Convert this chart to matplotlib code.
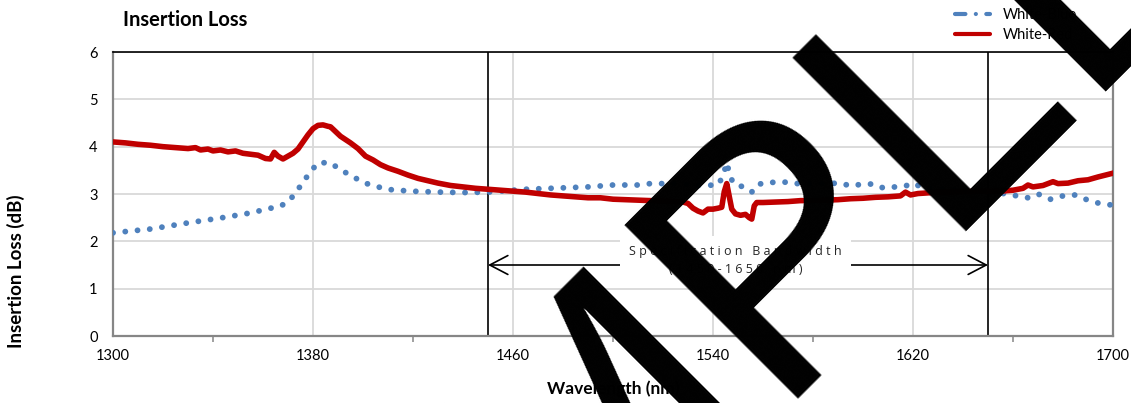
import matplotlib
matplotlib.use("Agg")
import matplotlib.pyplot as plt
from matplotlib.ticker import FixedLocator, NullFormatter
from matplotlib.lines import Line2D

# ---------------- data ----------------
red_wl = [1300, 1305, 1310, 1315, 1320, 1325, 1330, 1333, 1335, 1338, 1340, 1343, 1346, 1349,
          1352, 1355, 1358, 1361, 1363, 1364.5, 1366, 1368, 1370, 1372, 1374, 1376, 1378, 1380,
          1382, 1384, 1386, 1387, 1388, 1391, 1395, 1398, 1401, 1404, 1407, 1410, 1414, 1418,
          1422, 1426, 1430, 1435, 1440, 1445, 1450, 1455, 1460, 1465, 1470, 1475, 1480, 1485,
          1490, 1495, 1500, 1505, 1510, 1515, 1520, 1525, 1528, 1530, 1532, 1534, 1536, 1538,
          1540, 1542, 1543.5, 1544.5, 1545.5, 1546.5, 1547.5, 1549, 1551, 1553, 1554.5, 1555.5,
          1556.5, 1557.5, 1560, 1565, 1570, 1575, 1580, 1585, 1590, 1595, 1600, 1605, 1610,
          1615, 1617, 1619, 1622, 1625, 1630, 1640, 1650, 1655, 1660, 1664, 1666, 1668, 1672,
          1676, 1678, 1682, 1686, 1690, 1694, 1697, 1700]
red_il = [4.10, 4.08, 4.05, 4.03, 4.00, 3.98, 3.96, 3.98, 3.93, 3.95, 3.91, 3.93, 3.89, 3.91,
          3.86, 3.84, 3.82, 3.75, 3.74, 3.88, 3.80, 3.74, 3.80, 3.86, 3.95, 4.10, 4.25, 4.38,
          4.45, 4.46, 4.43, 4.42, 4.37, 4.22, 4.08, 3.96, 3.80, 3.72, 3.62, 3.55, 3.48, 3.40,
          3.33, 3.28, 3.23, 3.18, 3.15, 3.12, 3.10, 3.08, 3.06, 3.04, 3.01, 2.98, 2.96, 2.94,
          2.92, 2.92, 2.89, 2.88, 2.87, 2.86, 2.85, 2.84, 2.83, 2.80, 2.70, 2.64, 2.60, 2.68,
          2.68, 2.70, 2.72, 3.05, 3.22, 2.95, 2.68, 2.58, 2.55, 2.57, 2.50, 2.47,
          2.75, 2.82, 2.82, 2.83, 2.84, 2.86, 2.86, 2.87, 2.88, 2.90, 2.91, 2.93, 2.94,
          2.96, 3.04, 2.98, 3.01, 3.02, 3.04, 3.05, 3.06, 3.06, 3.08, 3.12, 3.19, 3.15, 3.18,
          3.26, 3.22, 3.23, 3.28, 3.30, 3.36, 3.40, 3.44]

blue_wl = [1300, 1315, 1330, 1345, 1355, 1363, 1366, 1370, 1373, 1376, 1379, 1382, 1387, 1391,
           1396, 1400, 1405, 1409, 1419, 1430, 1440, 1450, 1465, 1480, 1490, 1500, 1510, 1515,
           1525, 1535, 1542, 1544, 1545.5, 1546.5, 1548, 1552, 1555.5, 1557.5, 1560, 1565, 1570,
           1575, 1585, 1591, 1595, 1600, 1604, 1608, 1613, 1617, 1620, 1624, 1640, 1655, 1666,
           1670, 1675, 1680, 1685, 1689, 1694, 1699, 1700]
blue_il = [2.18, 2.26, 2.39, 2.51, 2.60, 2.70, 2.72, 2.83, 3.02, 3.25, 3.47, 3.66, 3.66, 3.51,
           3.37, 3.24, 3.17, 3.10, 3.06, 3.04, 3.03, 3.04, 3.10, 3.13, 3.15, 3.19, 3.19, 3.22,
           3.22, 3.18, 3.19, 3.38, 3.66, 3.45, 3.23, 3.15, 3.04, 3.19, 3.23, 3.25, 3.25,
           3.21, 3.22, 3.23, 3.17, 3.21, 3.21, 3.13, 3.15, 3.17, 3.23, 3.13, 3.08, 3.02, 2.92,
           3.00, 2.89, 2.96, 2.98, 2.89, 2.81, 2.77, 2.76]

x_major_ticks = [1300, 1380, 1460, 1540, 1620, 1700]
x_minor_ticks = [1340, 1420, 1500, 1580, 1660]
y_ticks = [0, 1, 2, 3, 4, 5, 6]
series_labels = ["White-Blue", "White-Red"]
spec_band = [1450, 1650]
spec_text = "Specification Bandwidth"
spec_range = "(1450-1650 nm)"
title_text = "Insertion Loss"
xlabel_text = "Wavelength (nm)"
ylabel_text = "Insertion Loss (dB)"
watermark = "SAMPLE"

# ---------------- figure ----------------
W, H = 1131, 403
fig = plt.figure(figsize=(W / 100, H / 100), dpi=100)
ax = fig.add_axes([113 / W, 67 / H, 1000 / W, 284 / H])

FONT = "Lato"
BLUE = "#4f81bd"
RED = "#c00000"

ax.set_xlim(1300, 1700)
ax.set_ylim(0, 6)
ax.xaxis.set_major_locator(FixedLocator(x_major_ticks))
ax.xaxis.set_minor_locator(FixedLocator(x_minor_ticks))
ax.xaxis.set_minor_formatter(NullFormatter())
ax.yaxis.set_major_locator(FixedLocator(y_ticks))
ax.grid(True, which="major", color="#d9d9d9", lw=1.3)
ax.set_axisbelow(True)

ax.tick_params(axis="y", length=0, pad=11, labelsize=10.5)
ax.tick_params(axis="x", which="major", length=0, pad=9, labelsize=10.5)
ax.tick_params(axis="x", which="minor", length=4, width=1.1, color="#868686", direction="out")
for lab in ax.get_xticklabels() + ax.get_yticklabels():
    lab.set_fontfamily(FONT)

for side in ["left", "bottom", "right"]:
    ax.spines[side].set_color("#868686")
    ax.spines[side].set_linewidth(1.6)
ax.spines["top"].set_color("black")
ax.spines["top"].set_linewidth(1.2)

# spec band lines
for b in spec_band:
    ax.axvline(b, color="black", lw=1.2, zorder=2)

# series
ax.plot(blue_wl, blue_il, color=BLUE, lw=4.2, linestyle=(0, (0.01, 2.1)),
        dash_capstyle="round", solid_capstyle="round", zorder=3, label=series_labels[0])
ax.plot(red_wl, red_il, color=RED, lw=4.0, solid_joinstyle="round", zorder=4,
        label=series_labels[1])

# arrow + spec text
ax.annotate("", xy=(spec_band[0], 1.5), xytext=(spec_band[1], 1.5),
            arrowprops=dict(arrowstyle="<->,head_length=1.3,head_width=0.68",
                            color="black", lw=1.2, shrinkA=0, shrinkB=0), zorder=5)


def spaced(s):
    return " ".join(list(s))


ax.text(1549, 1.6, spaced(spec_text) + "\n" + spaced(spec_range), ha="center", va="center",
        fontsize=9, family="Open Sans", color="#262626", linespacing=1.45, zorder=6,
        bbox=dict(facecolor="white", edgecolor="none", boxstyle="square,pad=0.75"))

# texts
fig.text(123 / W, 1 - 20 / H, title_text, ha="left", va="center", fontsize=14.5,
         fontweight="bold", family=FONT)
fig.text(613 / W, 1 - 389 / H, xlabel_text, ha="center", va="center", fontsize=12.5,
         fontweight="bold", family=FONT)
fig.text(16 / W, 1 - 271 / H, ylabel_text, ha="center", va="center", rotation=90,
         fontsize=13.5, fontweight="bold", family=FONT)

# legend
handles = [Line2D([], [], color=BLUE, lw=3.0, linestyle=(0, (2.5, 2.5, 0.01, 2.5)),
                  dash_capstyle="round"),
           Line2D([], [], color=RED, lw=3.0, solid_capstyle="round")]
fig.legend(handles, series_labels, loc="upper left", bbox_to_anchor=(952 / W, 1 - 5 / H),
           frameon=False, handlelength=2.4, handletextpad=0.85, labelspacing=0.45,
           prop={"family": FONT, "size": 10.5}, borderaxespad=0, borderpad=0.2)

# watermark overlay
fig.text(230 / W, (H - 952) / H, watermark, rotation=45, rotation_mode="anchor",
         ha="left", va="baseline", fontsize=256, family="Liberation Sans", color="black",
         zorder=10)

fig.savefig("out.png", dpi=100)
